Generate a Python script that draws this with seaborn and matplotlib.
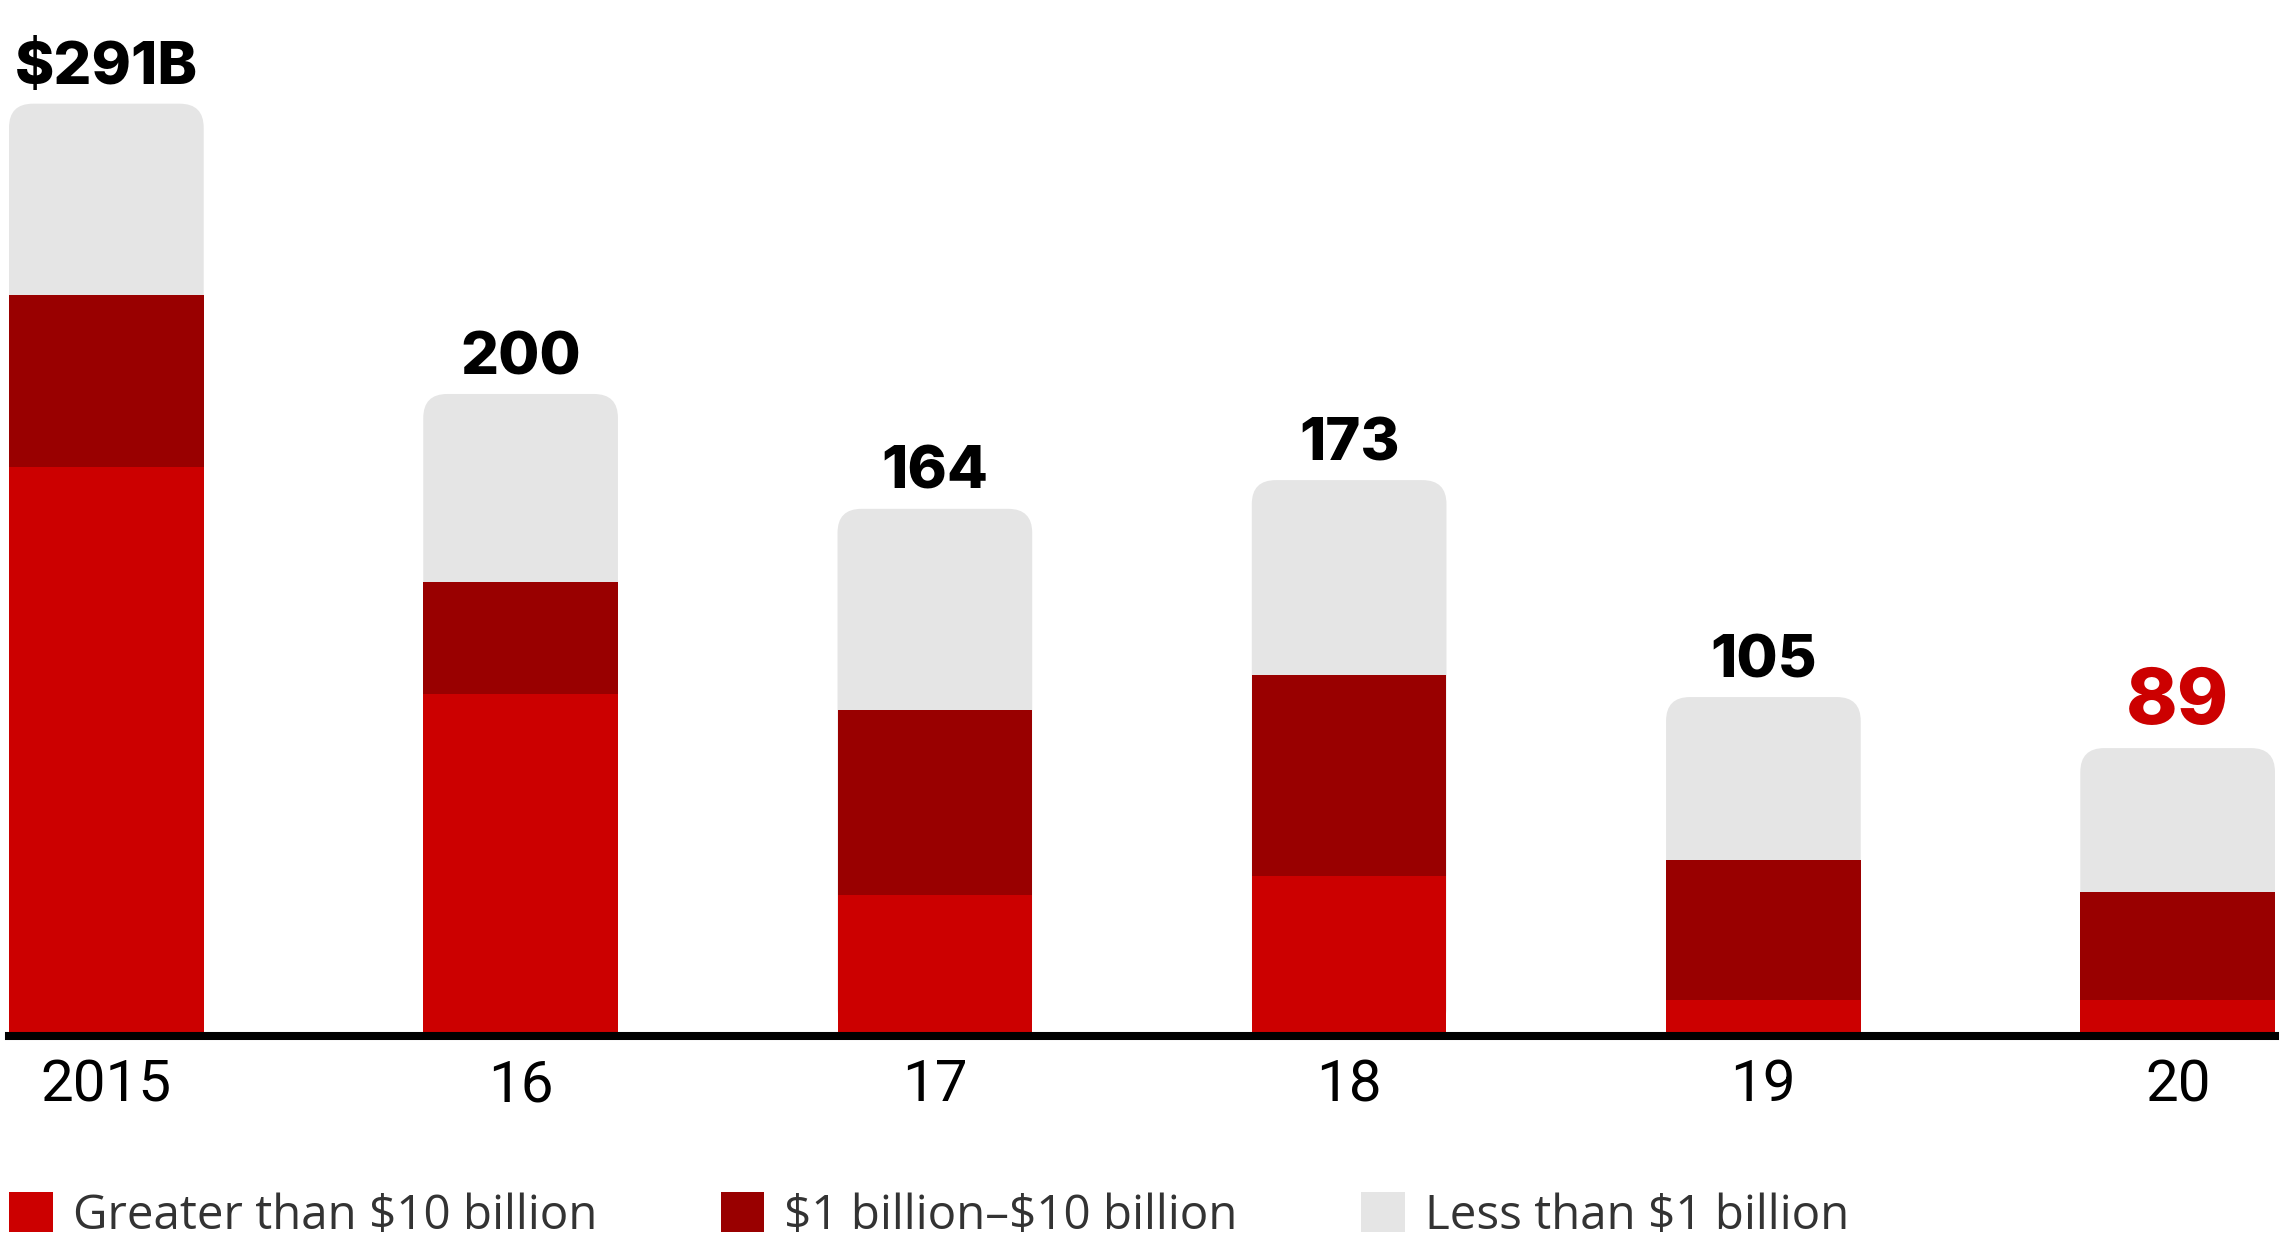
import numpy as np
import pandas as pd
import matplotlib
matplotlib.use("Agg")
import matplotlib.pyplot as plt
import seaborn as sns
from matplotlib.patches import FancyBboxPatch, Patch

# ---- data ----
years = ["2015", "16", "17", "18", "19", "20"]
greater_10b = [177, 106, 43, 49, 10, 10]
between_1_10b = [54, 35, 58, 63, 44, 34]
less_1b = [60, 59, 63, 61, 51, 45]
total_labels = ["$291B", "200", "164", "173", "105", "89"]
legend_labels = ["Greater than $10 billion", "$1 billion\u2013$10 billion", "Less than $1 billion"]

RED = "#CC0000"
DARK = "#990000"
LIGHT = "#E5E5E5"

sns.set_theme(style="white")
plt.rcParams['font.family'] = ['Roboto', 'DejaVu Sans']
plt.rcParams['text.parse_math'] = False

df = pd.DataFrame({"year": years, "red": greater_10b, "dark": between_1_10b, "light": less_1b})
df["mid"] = df["red"] + df["dark"]
df["total"] = df["mid"] + df["light"]

FW, FH = 2288, 1256
fig = plt.figure(figsize=(FW / 100, FH / 100), dpi=100)
ax_l, ax_b, ax_w, ax_h = 9, 224, 2266, 1032
ax = fig.add_axes([ax_l / FW, ax_b / FH, ax_w / FW, ax_h / FH])

W = 0.47
common = dict(width=W, ax=ax, saturation=1, linewidth=0, errorbar=None, order=years)
sns.barplot(data=df, x="year", y="total", color=LIGHT, **common)
n_light = len(ax.patches)
sns.barplot(data=df, x="year", y="mid", color=DARK, **common)
sns.barplot(data=df, x="year", y="red", color=RED, **common)

ymax = 323.5
ax.set_ylim(0, ymax)
ax.set_xlim(-W / 2, len(years) - 1 + W / 2)

# rounded tops for the light segments
px_x = ax_w / (len(years) - 1 + W)
px_y = ax_h / ymax
r_px = 24
asp = px_x / px_y
for p in list(ax.patches[:n_light]):
    x, y, w, h = p.get_x(), p.get_y(), p.get_width(), p.get_height()
    p.remove()
    fp = FancyBboxPatch((x, y), w, h,
                        boxstyle=f"round,pad=0,rounding_size={r_px / px_x}",
                        mutation_aspect=asp, fc=LIGHT, ec="none", zorder=0.8)
    ax.add_patch(fp)

# total labels
lab_font = ['Inter', 'Roboto', 'DejaVu Sans']
for i, (t, lab) in enumerate(zip(df["total"], total_labels)):
    if i == len(years) - 1:
        ax.text(i, t + 2.5, lab, ha="center", va="bottom", fontsize=56,
                fontweight=800, color=RED, family=lab_font)
    else:
        ax.text(i, t + 2.5, lab, ha="center", va="bottom", fontsize=43,
                fontweight=800, color="black", family=lab_font)

ax.set_xlabel("")
ax.set_ylabel("")
ax.set_yticks([])
ax.tick_params(axis="x", length=0, pad=16, labelsize=42, labelcolor="black")
for s in ["top", "left", "right"]:
    ax.spines[s].set_visible(False)
ax.spines["bottom"].set_color("black")
ax.spines["bottom"].set_linewidth(5.8)
ax.spines["bottom"].set_position(("outward", 2.9))
ax.set_facecolor("white")

handles = [Patch(fc=RED, ec="none"), Patch(fc=DARK, ec="none"), Patch(fc=LIGHT, ec="none")]
leg = fig.legend(handles, legend_labels, loc="center left",
                 bbox_to_anchor=(9 / FW, 40 / FH), ncol=3, frameon=False,
                 handlelength=0.92, handleheight=0.92,
                 handletextpad=0.42, columnspacing=2.6, borderaxespad=0,
                 borderpad=0, prop={'family': ['Open Sans', 'DejaVu Sans'], 'size': 34.2})
for t in leg.get_texts():
    t.set_color("#333333")

fig.savefig("out.png", dpi=100, facecolor="white")
